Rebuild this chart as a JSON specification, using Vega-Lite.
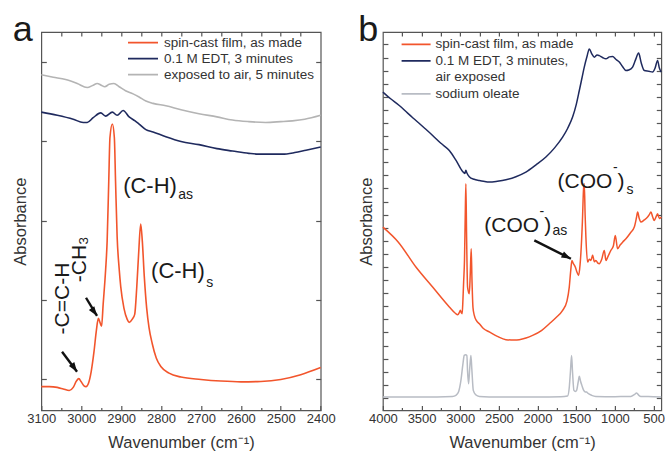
{
  "$schema": "https://vega.github.io/schema/vega-lite/v6.json",
  "background": "white",
  "padding": {"left": 11.3, "top": 11, "right": 0, "bottom": 0},
  "spacing": 61.6,
  "bounds": "flush",
  "config": {
    "font": "Liberation Sans",
    "view": {"stroke": "#555", "strokeWidth": 1.2},
    "axis": {"domain": false, "grid": false, "tickColor": "#555", "tickWidth": 1.2, "labelColor": "#333", "titleColor": "#333", "labelFont": "Liberation Sans", "titleFont": "Liberation Sans", "labelFontSize": 13, "titleFontSize": 16.5, "titleFontWeight": "normal", "labelOverlap": false, "labelFlush": false, "format": "d"},
    "legend": {"labelFont": "Liberation Sans"}
  },
  "resolve": {"scale": {"color": "independent"}},
  "datasets": {
    "a": [
      {"series":"spin-cast film, as made","wn":3100,"abs":-0.09},{"series":"spin-cast film, as made","wn":3080,"abs":-0.09},{"series":"spin-cast film, as made","wn":3060,"abs":-0.10},{"series":"spin-cast film, as made","wn":3045,"abs":-0.12},{"series":"spin-cast film, as made","wn":3030,"abs":-0.14},{"series":"spin-cast film, as made","wn":3020,"abs":-0.10},{"series":"spin-cast film, as made","wn":3012,"abs":-0.02},{"series":"spin-cast film, as made","wn":3006,"abs":0.01},{"series":"spin-cast film, as made","wn":3000,"abs":-0.03},{"series":"spin-cast film, as made","wn":2993,"abs":-0.08},{"series":"spin-cast film, as made","wn":2988,"abs":-0.09},{"series":"spin-cast film, as made","wn":2982,"abs":-0.05},{"series":"spin-cast film, as made","wn":2975,"abs":0.10},{"series":"spin-cast film, as made","wn":2968,"abs":0.35},{"series":"spin-cast film, as made","wn":2962,"abs":0.62},{"series":"spin-cast film, as made","wn":2957,"abs":0.77},{"series":"spin-cast film, as made","wn":2953,"abs":0.72},{"series":"spin-cast film, as made","wn":2949,"abs":0.67},{"series":"spin-cast film, as made","wn":2945,"abs":0.95},{"series":"spin-cast film, as made","wn":2939,"abs":1.37},{"series":"spin-cast film, as made","wn":2935,"abs":1.75},{"series":"spin-cast film, as made","wn":2931,"abs":2.5},{"series":"spin-cast film, as made","wn":2928,"abs":3.05},{"series":"spin-cast film, as made","wn":2922,"abs":3.22},{"series":"spin-cast film, as made","wn":2917,"abs":3.05},{"series":"spin-cast film, as made","wn":2914,"abs":2.5},{"series":"spin-cast film, as made","wn":2910,"abs":1.8},{"series":"spin-cast film, as made","wn":2905,"abs":1.4},{"series":"spin-cast film, as made","wn":2901,"abs":1.17},{"series":"spin-cast film, as made","wn":2893,"abs":0.9},{"series":"spin-cast film, as made","wn":2885,"abs":0.76},{"series":"spin-cast film, as made","wn":2880,"abs":0.72},{"series":"spin-cast film, as made","wn":2872,"abs":0.76},{"series":"spin-cast film, as made","wn":2866,"abs":0.82},{"series":"spin-cast film, as made","wn":2861,"abs":1.15},{"series":"spin-cast film, as made","wn":2856,"abs":1.6},{"series":"spin-cast film, as made","wn":2851,"abs":1.96},{"series":"spin-cast film, as made","wn":2847,"abs":1.75},{"series":"spin-cast film, as made","wn":2842,"abs":1.3},{"series":"spin-cast film, as made","wn":2836,"abs":0.9},{"series":"spin-cast film, as made","wn":2830,"abs":0.65},{"series":"spin-cast film, as made","wn":2822,"abs":0.45},{"series":"spin-cast film, as made","wn":2812,"abs":0.27},{"series":"spin-cast film, as made","wn":2800,"abs":0.16},{"series":"spin-cast film, as made","wn":2780,"abs":0.08},{"series":"spin-cast film, as made","wn":2750,"abs":0.03},{"series":"spin-cast film, as made","wn":2700,"abs":0.0},{"series":"spin-cast film, as made","wn":2650,"abs":-0.02},{"series":"spin-cast film, as made","wn":2600,"abs":-0.03},{"series":"spin-cast film, as made","wn":2550,"abs":-0.025},{"series":"spin-cast film, as made","wn":2500,"abs":0.0},{"series":"spin-cast film, as made","wn":2450,"abs":0.06},{"series":"spin-cast film, as made","wn":2400,"abs":0.15},
      {"series":"0.1 M EDT, 3 minutes","wn":3100,"abs":3.37},{"series":"0.1 M EDT, 3 minutes","wn":3060,"abs":3.33},{"series":"0.1 M EDT, 3 minutes","wn":3020,"abs":3.28},{"series":"0.1 M EDT, 3 minutes","wn":2995,"abs":3.24},{"series":"0.1 M EDT, 3 minutes","wn":2985,"abs":3.24},{"series":"0.1 M EDT, 3 minutes","wn":2970,"abs":3.3},{"series":"0.1 M EDT, 3 minutes","wn":2951,"abs":3.36},{"series":"0.1 M EDT, 3 minutes","wn":2939,"abs":3.32},{"series":"0.1 M EDT, 3 minutes","wn":2922,"abs":3.37},{"series":"0.1 M EDT, 3 minutes","wn":2910,"abs":3.33},{"series":"0.1 M EDT, 3 minutes","wn":2895,"abs":3.39},{"series":"0.1 M EDT, 3 minutes","wn":2880,"abs":3.31},{"series":"0.1 M EDT, 3 minutes","wn":2865,"abs":3.26},{"series":"0.1 M EDT, 3 minutes","wn":2855,"abs":3.22},{"series":"0.1 M EDT, 3 minutes","wn":2838,"abs":3.15},{"series":"0.1 M EDT, 3 minutes","wn":2820,"abs":3.12},{"series":"0.1 M EDT, 3 minutes","wn":2788,"abs":3.06},{"series":"0.1 M EDT, 3 minutes","wn":2750,"abs":3.0},{"series":"0.1 M EDT, 3 minutes","wn":2705,"abs":2.96},{"series":"0.1 M EDT, 3 minutes","wn":2660,"abs":2.91},{"series":"0.1 M EDT, 3 minutes","wn":2621,"abs":2.88},{"series":"0.1 M EDT, 3 minutes","wn":2580,"abs":2.85},{"series":"0.1 M EDT, 3 minutes","wn":2555,"abs":2.84},{"series":"0.1 M EDT, 3 minutes","wn":2520,"abs":2.84},{"series":"0.1 M EDT, 3 minutes","wn":2496,"abs":2.84},{"series":"0.1 M EDT, 3 minutes","wn":2465,"abs":2.86},{"series":"0.1 M EDT, 3 minutes","wn":2437,"abs":2.89},{"series":"0.1 M EDT, 3 minutes","wn":2400,"abs":2.93},
      {"series":"exposed to air, 5 minutes","wn":3100,"abs":3.84},{"series":"exposed to air, 5 minutes","wn":3070,"abs":3.81},{"series":"exposed to air, 5 minutes","wn":3039,"abs":3.78},{"series":"exposed to air, 5 minutes","wn":3010,"abs":3.73},{"series":"exposed to air, 5 minutes","wn":2985,"abs":3.68},{"series":"exposed to air, 5 minutes","wn":2970,"abs":3.71},{"series":"exposed to air, 5 minutes","wn":2960,"abs":3.73},{"series":"exposed to air, 5 minutes","wn":2950,"abs":3.71},{"series":"exposed to air, 5 minutes","wn":2941,"abs":3.69},{"series":"exposed to air, 5 minutes","wn":2930,"abs":3.72},{"series":"exposed to air, 5 minutes","wn":2918,"abs":3.73},{"series":"exposed to air, 5 minutes","wn":2905,"abs":3.69},{"series":"exposed to air, 5 minutes","wn":2889,"abs":3.64},{"series":"exposed to air, 5 minutes","wn":2870,"abs":3.6},{"series":"exposed to air, 5 minutes","wn":2855,"abs":3.56},{"series":"exposed to air, 5 minutes","wn":2838,"abs":3.51},{"series":"exposed to air, 5 minutes","wn":2820,"abs":3.48},{"series":"exposed to air, 5 minutes","wn":2788,"abs":3.45},{"series":"exposed to air, 5 minutes","wn":2750,"abs":3.4},{"series":"exposed to air, 5 minutes","wn":2705,"abs":3.35},{"series":"exposed to air, 5 minutes","wn":2660,"abs":3.31},{"series":"exposed to air, 5 minutes","wn":2621,"abs":3.27},{"series":"exposed to air, 5 minutes","wn":2580,"abs":3.25},{"series":"exposed to air, 5 minutes","wn":2538,"abs":3.24},{"series":"exposed to air, 5 minutes","wn":2500,"abs":3.25},{"series":"exposed to air, 5 minutes","wn":2471,"abs":3.26},{"series":"exposed to air, 5 minutes","wn":2440,"abs":3.28},{"series":"exposed to air, 5 minutes","wn":2400,"abs":3.33}
    ],
    "b": [
      {"series":"sodium oleate","wn":4000,"abs":0.08},{"series":"sodium oleate","wn":3500,"abs":0.08},{"series":"sodium oleate","wn":3100,"abs":0.12},{"series":"sodium oleate","wn":3056,"abs":0.2},{"series":"sodium oleate","wn":3020,"abs":0.5},{"series":"sodium oleate","wn":2991,"abs":1.34},{"series":"sodium oleate","wn":2965,"abs":2.6},{"series":"sodium oleate","wn":2948,"abs":3.25},{"series":"sodium oleate","wn":2930,"abs":3.3},{"series":"sodium oleate","wn":2914,"abs":3.25},{"series":"sodium oleate","wn":2905,"abs":2.0},{"series":"sodium oleate","wn":2892,"abs":1.09},{"series":"sodium oleate","wn":2878,"abs":2.2},{"series":"sodium oleate","wn":2862,"abs":3.25},{"series":"sodium oleate","wn":2850,"abs":2.2},{"series":"sodium oleate","wn":2831,"abs":0.58},{"series":"sodium oleate","wn":2800,"abs":0.25},{"series":"sodium oleate","wn":2753,"abs":0.12},{"series":"sodium oleate","wn":2500,"abs":0.08},{"series":"sodium oleate","wn":2000,"abs":0.08},{"series":"sodium oleate","wn":1700,"abs":0.1},{"series":"sodium oleate","wn":1612,"abs":0.15},{"series":"sodium oleate","wn":1590,"abs":0.8},{"series":"sodium oleate","wn":1575,"abs":2.0},{"series":"sodium oleate","wn":1560,"abs":3.25},{"series":"sodium oleate","wn":1548,"abs":2.0},{"series":"sodium oleate","wn":1530,"abs":0.58},{"series":"sodium oleate","wn":1510,"abs":0.5},{"series":"sodium oleate","wn":1495,"abs":0.58},{"series":"sodium oleate","wn":1475,"abs":1.2},{"series":"sodium oleate","wn":1460,"abs":1.65},{"series":"sodium oleate","wn":1445,"abs":1.3},{"series":"sodium oleate","wn":1427,"abs":0.96},{"series":"sodium oleate","wn":1405,"abs":0.6},{"series":"sodium oleate","wn":1383,"abs":0.46},{"series":"sodium oleate","wn":1365,"abs":0.45},{"series":"sodium oleate","wn":1353,"abs":0.38},{"series":"sodium oleate","wn":1300,"abs":0.2},{"series":"sodium oleate","wn":1246,"abs":0.12},{"series":"sodium oleate","wn":1000,"abs":0.1},{"series":"sodium oleate","wn":850,"abs":0.12},{"series":"sodium oleate","wn":793,"abs":0.12},{"series":"sodium oleate","wn":750,"abs":0.25},{"series":"sodium oleate","wn":719,"abs":0.38},{"series":"sodium oleate","wn":690,"abs":0.2},{"series":"sodium oleate","wn":664,"abs":0.12},{"series":"sodium oleate","wn":500,"abs":0.1},{"series":"sodium oleate","wn":400,"abs":0.08},
      {"series":"0.1 M EDT, 3 minutes, air exposed","wn":4000,"abs":23.36},{"series":"0.1 M EDT, 3 minutes, air exposed","wn":3900,"abs":22.85},{"series":"0.1 M EDT, 3 minutes, air exposed","wn":3788,"abs":22.34},{"series":"0.1 M EDT, 3 minutes, air exposed","wn":3680,"abs":21.75},{"series":"0.1 M EDT, 3 minutes, air exposed","wn":3573,"abs":21.19},{"series":"0.1 M EDT, 3 minutes, air exposed","wn":3460,"abs":20.6},{"series":"0.1 M EDT, 3 minutes, air exposed","wn":3357,"abs":20.05},{"series":"0.1 M EDT, 3 minutes, air exposed","wn":3250,"abs":19.45},{"series":"0.1 M EDT, 3 minutes, air exposed","wn":3141,"abs":18.9},{"series":"0.1 M EDT, 3 minutes, air exposed","wn":3050,"abs":18.1},{"series":"0.1 M EDT, 3 minutes, air exposed","wn":2969,"abs":17.3},{"series":"0.1 M EDT, 3 minutes, air exposed","wn":2940,"abs":17.15},{"series":"0.1 M EDT, 3 minutes, air exposed","wn":2927,"abs":17.4},{"series":"0.1 M EDT, 3 minutes, air exposed","wn":2915,"abs":17.2},{"series":"0.1 M EDT, 3 minutes, air exposed","wn":2883,"abs":16.9},{"series":"0.1 M EDT, 3 minutes, air exposed","wn":2820,"abs":16.7},{"series":"0.1 M EDT, 3 minutes, air exposed","wn":2753,"abs":16.61},{"series":"0.1 M EDT, 3 minutes, air exposed","wn":2700,"abs":16.55},{"series":"0.1 M EDT, 3 minutes, air exposed","wn":2624,"abs":16.49},{"series":"0.1 M EDT, 3 minutes, air exposed","wn":2520,"abs":16.55},{"series":"0.1 M EDT, 3 minutes, air exposed","wn":2409,"abs":16.66},{"series":"0.1 M EDT, 3 minutes, air exposed","wn":2280,"abs":16.9},{"series":"0.1 M EDT, 3 minutes, air exposed","wn":2151,"abs":17.25},{"series":"0.1 M EDT, 3 minutes, air exposed","wn":2020,"abs":17.8},{"series":"0.1 M EDT, 3 minutes, air exposed","wn":1892,"abs":18.4},{"series":"0.1 M EDT, 3 minutes, air exposed","wn":1780,"abs":19.1},{"series":"0.1 M EDT, 3 minutes, air exposed","wn":1676,"abs":19.92},{"series":"0.1 M EDT, 3 minutes, air exposed","wn":1610,"abs":20.6},{"series":"0.1 M EDT, 3 minutes, air exposed","wn":1547,"abs":21.45},{"series":"0.1 M EDT, 3 minutes, air exposed","wn":1500,"abs":22.4},{"series":"0.1 M EDT, 3 minutes, air exposed","wn":1460,"abs":23.48},{"series":"0.1 M EDT, 3 minutes, air exposed","wn":1420,"abs":24.6},{"series":"0.1 M EDT, 3 minutes, air exposed","wn":1396,"abs":25.27},{"series":"0.1 M EDT, 3 minutes, air exposed","wn":1360,"abs":26.1},{"series":"0.1 M EDT, 3 minutes, air exposed","wn":1331,"abs":26.66},{"series":"0.1 M EDT, 3 minutes, air exposed","wn":1300,"abs":26.3},{"series":"0.1 M EDT, 3 minutes, air exposed","wn":1266,"abs":26.03},{"series":"0.1 M EDT, 3 minutes, air exposed","wn":1230,"abs":26.2},{"series":"0.1 M EDT, 3 minutes, air exposed","wn":1202,"abs":26.15},{"series":"0.1 M EDT, 3 minutes, air exposed","wn":1160,"abs":26.0},{"series":"0.1 M EDT, 3 minutes, air exposed","wn":1116,"abs":25.9},{"series":"0.1 M EDT, 3 minutes, air exposed","wn":1070,"abs":26.05},{"series":"0.1 M EDT, 3 minutes, air exposed","wn":1030,"abs":26.08},{"series":"0.1 M EDT, 3 minutes, air exposed","wn":985,"abs":25.85},{"series":"0.1 M EDT, 3 minutes, air exposed","wn":943,"abs":25.65},{"series":"0.1 M EDT, 3 minutes, air exposed","wn":900,"abs":25.3},{"series":"0.1 M EDT, 3 minutes, air exposed","wn":857,"abs":25.01},{"series":"0.1 M EDT, 3 minutes, air exposed","wn":820,"abs":25.05},{"series":"0.1 M EDT, 3 minutes, air exposed","wn":771,"abs":25.27},{"series":"0.1 M EDT, 3 minutes, air exposed","wn":735,"abs":25.8},{"series":"0.1 M EDT, 3 minutes, air exposed","wn":693,"abs":26.34},{"series":"0.1 M EDT, 3 minutes, air exposed","wn":660,"abs":25.6},{"series":"0.1 M EDT, 3 minutes, air exposed","wn":620,"abs":25.01},{"series":"0.1 M EDT, 3 minutes, air exposed","wn":560,"abs":24.95},{"series":"0.1 M EDT, 3 minutes, air exposed","wn":512,"abs":24.89},{"series":"0.1 M EDT, 3 minutes, air exposed","wn":480,"abs":25.2},{"series":"0.1 M EDT, 3 minutes, air exposed","wn":448,"abs":25.78},{"series":"0.1 M EDT, 3 minutes, air exposed","wn":425,"abs":25.2},{"series":"0.1 M EDT, 3 minutes, air exposed","wn":400,"abs":24.89},
      {"series":"spin-cast film, as made","wn":4000,"abs":13.05},{"series":"spin-cast film, as made","wn":3800,"abs":11.9},{"series":"spin-cast film, as made","wn":3573,"abs":10.0},{"series":"spin-cast film, as made","wn":3357,"abs":8.47},{"series":"spin-cast film, as made","wn":3141,"abs":6.95},{"series":"spin-cast film, as made","wn":3060,"abs":6.45},{"series":"spin-cast film, as made","wn":3034,"abs":6.36},{"series":"spin-cast film, as made","wn":3010,"abs":6.55},{"series":"spin-cast film, as made","wn":2999,"abs":6.69},{"series":"spin-cast film, as made","wn":2985,"abs":6.5},{"series":"spin-cast film, as made","wn":2975,"abs":6.44},{"series":"spin-cast film, as made","wn":2965,"abs":7.5},{"series":"spin-cast film, as made","wn":2956,"abs":8.85},{"series":"spin-cast film, as made","wn":2945,"abs":10.5},{"series":"spin-cast film, as made","wn":2935,"abs":14.0},{"series":"spin-cast film, as made","wn":2927,"abs":16.36},{"series":"spin-cast film, as made","wn":2918,"abs":12.5},{"series":"spin-cast film, as made","wn":2905,"abs":8.47},{"series":"spin-cast film, as made","wn":2883,"abs":7.96},{"series":"spin-cast film, as made","wn":2870,"abs":9.5},{"series":"spin-cast film, as made","wn":2858,"abs":11.4},{"series":"spin-cast film, as made","wn":2848,"abs":9.0},{"series":"spin-cast film, as made","wn":2835,"abs":6.9},{"series":"spin-cast film, as made","wn":2818,"abs":6.3},{"series":"spin-cast film, as made","wn":2790,"abs":5.9},{"series":"spin-cast film, as made","wn":2753,"abs":5.67},{"series":"spin-cast film, as made","wn":2700,"abs":5.3},{"series":"spin-cast film, as made","wn":2624,"abs":5.04},{"series":"spin-cast film, as made","wn":2520,"abs":4.7},{"series":"spin-cast film, as made","wn":2409,"abs":4.45},{"series":"spin-cast film, as made","wn":2300,"abs":4.42},{"series":"spin-cast film, as made","wn":2236,"abs":4.45},{"series":"spin-cast film, as made","wn":2150,"abs":4.58},{"series":"spin-cast film, as made","wn":2064,"abs":4.78},{"series":"spin-cast film, as made","wn":1950,"abs":5.15},{"series":"spin-cast film, as made","wn":1848,"abs":5.67},{"series":"spin-cast film, as made","wn":1760,"abs":6.15},{"series":"spin-cast film, as made","wn":1676,"abs":6.69},{"series":"spin-cast film, as made","wn":1620,"abs":7.4},{"series":"spin-cast film, as made","wn":1590,"abs":8.47},{"series":"spin-cast film, as made","wn":1570,"abs":9.8},{"series":"spin-cast film, as made","wn":1556,"abs":10.5},{"series":"spin-cast film, as made","wn":1540,"abs":10.3},{"series":"spin-cast film, as made","wn":1512,"abs":10.0},{"series":"spin-cast film, as made","wn":1490,"abs":9.6},{"series":"spin-cast film, as made","wn":1469,"abs":9.36},{"series":"spin-cast film, as made","wn":1450,"abs":10.2},{"series":"spin-cast film, as made","wn":1440,"abs":11.02},{"series":"spin-cast film, as made","wn":1420,"abs":13.5},{"series":"spin-cast film, as made","wn":1405,"abs":16.0},{"series":"spin-cast film, as made","wn":1396,"abs":16.36},{"series":"spin-cast film, as made","wn":1385,"abs":14.0},{"series":"spin-cast film, as made","wn":1375,"abs":12.29},{"series":"spin-cast film, as made","wn":1353,"abs":10.38},{"series":"spin-cast film, as made","wn":1330,"abs":10.6},{"series":"spin-cast film, as made","wn":1310,"abs":10.5},{"series":"spin-cast film, as made","wn":1288,"abs":10.89},{"series":"spin-cast film, as made","wn":1265,"abs":10.4},{"series":"spin-cast film, as made","wn":1246,"abs":10.5},{"series":"spin-cast film, as made","wn":1220,"abs":10.3},{"series":"spin-cast film, as made","wn":1202,"abs":10.25},{"series":"spin-cast film, as made","wn":1170,"abs":10.6},{"series":"spin-cast film, as made","wn":1137,"abs":11.27},{"series":"spin-cast film, as made","wn":1116,"abs":10.5},{"series":"spin-cast film, as made","wn":1090,"abs":10.8},{"series":"spin-cast film, as made","wn":1052,"abs":11.27},{"series":"spin-cast film, as made","wn":1020,"abs":11.6},{"series":"spin-cast film, as made","wn":995,"abs":12.41},{"series":"spin-cast film, as made","wn":965,"abs":11.4},{"series":"spin-cast film, as made","wn":930,"abs":11.7},{"series":"spin-cast film, as made","wn":900,"abs":11.9},{"series":"spin-cast film, as made","wn":857,"abs":12.16},{"series":"spin-cast film, as made","wn":800,"abs":12.6},{"series":"spin-cast film, as made","wn":749,"abs":13.05},{"series":"spin-cast film, as made","wn":720,"abs":13.8},{"series":"spin-cast film, as made","wn":706,"abs":14.2},{"series":"spin-cast film, as made","wn":685,"abs":13.7},{"series":"spin-cast film, as made","wn":664,"abs":13.44},{"series":"spin-cast film, as made","wn":620,"abs":13.6},{"series":"spin-cast film, as made","wn":577,"abs":13.82},{"series":"spin-cast film, as made","wn":555,"abs":14.0},{"series":"spin-cast film, as made","wn":534,"abs":14.2},{"series":"spin-cast film, as made","wn":510,"abs":13.8},{"series":"spin-cast film, as made","wn":491,"abs":13.56},{"series":"spin-cast film, as made","wn":470,"abs":13.8},{"series":"spin-cast film, as made","wn":448,"abs":14.07},{"series":"spin-cast film, as made","wn":425,"abs":13.7},{"series":"spin-cast film, as made","wn":400,"abs":13.82}
    ],
    "annA": [
      {"role":"main","label":"(C-H)","wn":2895,"abs":2.35},
      {"role":"sub","label":"as","wn":2757,"abs":2.27},
      {"role":"main","label":"(C-H)","wn":2825,"abs":1.28},
      {"role":"sub","label":"s","wn":2687,"abs":1.17},
      {"role":"rot","label":"-C=C-H","wn":3045,"abs":1.02},
      {"role":"rot","label":"-CH₃","wn":3002,"abs":1.515}
    ],
    "annB": [
      {"role":"main","label":"(COO","wn":1741,"abs":16.05},
      {"role":"sup","label":"-","wn":1023,"abs":17.27},
      {"role":"main","label":")","wn":965,"abs":16.05},
      {"role":"sub","label":"s","wn":849,"abs":15.6},
      {"role":"main","label":"(COO","wn":2689,"abs":12.67},
      {"role":"sup","label":"-","wn":1974,"abs":13.9},
      {"role":"main","label":")","wn":1915,"abs":12.67},
      {"role":"sub","label":"as","wn":1806,"abs":12.41}
    ],
    "arrA": [
      {"wn":3048,"abs":0.35,"wn2":3010.5,"abs2":0.097},
      {"wn":2988,"abs":1.03,"wn2":2960.4,"abs2":0.80}
    ],
    "arrB": [
      {"wn":2042,"abs":12.03,"wn2":1569,"abs2":10.63}
    ]
  },
  "hconcat": [
    {
      "width": 279.4,
      "height": 378.4,
      "title": {"text": "a", "anchor": "start", "frame": "bounds", "fontSize": 36, "fontWeight": "normal", "color": "#1a1a1a", "baseline": "alphabetic", "offset": -45.3},
      "resolve": {"axis": {"x": "independent", "y": "independent"}},
      "layer": [
        {
          "data": {"name": "a"},
          "mark": {"type": "line", "strokeWidth": 1.6, "interpolate": "monotone"},
          "encoding": {
            "x": {"field": "wn", "type": "quantitative", "scale": {"domain": [2400, 3100], "reverse": true, "nice": false, "zero": false},
                  "axis": {"orient": "bottom", "values": [3100,3000,2900,2800,2700,2600,2500,2400], "tickSize": -5, "labelPadding": 7, "title": "Wavenumber (cm⁻¹)", "titlePadding": 9}},
            "y": {"field": "abs", "type": "quantitative", "scale": {"domain": [-0.39, 4.38], "nice": false, "zero": false},
                  "axis": {"orient": "left", "values": [0,1,2,3,4], "tickSize": -5, "labels": false, "title": "Absorbance", "titlePadding": 12}},
            "color": {"field": "series", "type": "nominal", "sort": null,
                      "scale": {"domain": ["spin-cast film, as made", "0.1 M EDT, 3 minutes", "exposed to air, 5 minutes"], "range": ["#f2552c", "#1f2a5e", "#b4b4b4"]},
                      "legend": {"orient": "none", "legendX": 85.7, "legendY": 2.6, "title": null, "symbolType": "stroke", "symbolSize": 900, "symbolStrokeWidth": 1.8, "labelFontSize": 13.5, "labelColor": "#333", "clipHeight": 16, "labelOffset": 5, "rowPadding": 0, "padding": 0}}
          }
        },
        {
          "data": {"name": "annA"},
          "transform": [{"filter": "datum.role == 'main'"}],
          "mark": {"type": "text", "fontSize": 22, "align": "left", "baseline": "alphabetic", "color": "#1a1a1a"},
          "encoding": {
            "x": {"field": "wn", "type": "quantitative", "scale": {"domain": [2400, 3100], "reverse": true, "nice": false, "zero": false},
                  "axis": {"orient": "bottom", "values": [3050,2950,2850,2750,2650,2550,2450], "tickSize": -3, "labels": false, "title": null}},
            "y": {"field": "abs", "type": "quantitative", "scale": {"domain": [-0.39, 4.38], "nice": false, "zero": false},
                  "axis": {"orient": "right", "values": [0,1,2,3,4], "tickSize": -5, "labels": false, "title": null}},
            "text": {"field": "label"}
          }
        },
        {
          "data": {"name": "annA"},
          "transform": [{"filter": "datum.role == 'sub'"}],
          "mark": {"type": "text", "fontSize": 14, "align": "left", "baseline": "alphabetic", "color": "#1a1a1a"},
          "encoding": {
            "x": {"field": "wn", "type": "quantitative", "scale": {"domain": [2400, 3100], "reverse": true, "nice": false, "zero": false},
                  "axis": {"orient": "top", "values": [3050,3000,2950,2900,2850,2800,2750,2700,2650,2600,2550,2500,2450], "tickSize": -4, "labels": false, "title": null}},
            "y": {"field": "abs", "type": "quantitative", "scale": {"domain": [-0.39, 4.38], "nice": false, "zero": false}, "axis": null},
            "text": {"field": "label"}
          }
        },
        {
          "data": {"name": "annA"},
          "transform": [{"filter": "datum.role == 'rot'"}],
          "mark": {"type": "text", "fontSize": 21, "angle": 270, "align": "center", "baseline": "middle", "color": "#1a1a1a"},
          "encoding": {
            "x": {"field": "wn", "type": "quantitative", "scale": {"domain": [2400, 3100], "reverse": true, "nice": false, "zero": false}, "axis": null},
            "y": {"field": "abs", "type": "quantitative", "scale": {"domain": [-0.39, 4.38], "nice": false, "zero": false}, "axis": null},
            "text": {"field": "label"}
          }
        },
        {
          "data": {"name": "arrA"},
          "mark": {"type": "rule", "strokeWidth": 2.4, "color": "#111"},
          "encoding": {
            "x": {"field": "wn", "type": "quantitative", "scale": {"domain": [2400, 3100], "reverse": true, "nice": false, "zero": false}, "axis": null},
            "y": {"field": "abs", "type": "quantitative", "scale": {"domain": [-0.39, 4.38], "nice": false, "zero": false}, "axis": null},
            "x2": {"field": "wn2"},
            "y2": {"field": "abs2"}
          }
        },
        {
          "data": {"name": "arrA"},
          "mark": {"type": "point", "shape": "M0,0L0.7,2L-0.7,2Z", "filled": true, "opacity": 1, "color": "#111", "size": 90, "angle": 145},
          "encoding": {
            "x": {"field": "wn2", "type": "quantitative", "scale": {"domain": [2400, 3100], "reverse": true, "nice": false, "zero": false}, "axis": null},
            "y": {"field": "abs2", "type": "quantitative", "scale": {"domain": [-0.39, 4.38], "nice": false, "zero": false}, "axis": null}
          }
        }
      ]
    },
    {
      "width": 278.4,
      "height": 378.4,
      "title": {"text": "b", "anchor": "start", "frame": "bounds", "fontSize": 36, "fontWeight": "normal", "color": "#1a1a1a", "baseline": "alphabetic", "offset": -45.3},
      "resolve": {"axis": {"x": "independent", "y": "independent"}},
      "layer": [
        {
          "data": {"name": "b"},
          "mark": {"type": "line", "strokeWidth": 1.5, "interpolate": "monotone"},
          "encoding": {
            "x": {"field": "wn", "type": "quantitative", "scale": {"domain": [400, 4000], "reverse": true, "nice": false, "zero": false},
                  "axis": {"orient": "bottom", "values": [4000,3500,3000,2500,2000,1500,1000,500], "tickSize": -5, "labelPadding": 7, "title": "Wavenumber (cm⁻¹)", "titlePadding": 9}},
            "y": {"field": "abs", "type": "quantitative", "scale": {"domain": [-0.95, 27.95], "nice": false, "zero": false},
                  "axis": {"orient": "left", "values": [0,1,2,3,4,5,6,7,8,9,10,11,12,13,14,15,16,17,18,19,20,21,22,23,24,25,26,27], "tickSize": -5, "labels": false, "title": "Absorbance", "titlePadding": 8}},
            "color": {"field": "series", "type": "nominal", "sort": null,
                      "scale": {"domain": ["spin-cast film, as made", "0.1 M EDT, 3 minutes, air exposed", "air exposed", "sodium oleate"], "range": ["#f2552c", "#1f2a5e", "rgba(0,0,0,0)", "#b8bcc4"]},
                      "legend": {"orient": "none", "legendX": 17.7, "legendY": 4.4, "title": null, "symbolType": "stroke", "symbolSize": 841, "symbolStrokeWidth": 1.8, "labelFontSize": 13.5, "labelColor": "#333", "clipHeight": 16, "labelOffset": 4, "rowPadding": 0.5, "padding": 0,
                                 "labelExpr": "datum.label == '0.1 M EDT, 3 minutes, air exposed' ? '0.1 M EDT, 3 minutes,' : datum.label"}}
          }
        },
        {
          "data": {"name": "annB"},
          "transform": [{"filter": "datum.role == 'main'"}],
          "mark": {"type": "text", "fontSize": 21, "align": "left", "baseline": "alphabetic", "color": "#1a1a1a"},
          "encoding": {
            "x": {"field": "wn", "type": "quantitative", "scale": {"domain": [400, 4000], "reverse": true, "nice": false, "zero": false},
                  "axis": {"orient": "bottom", "values": [3750,3250,2750,2250,1750,1250,750], "tickSize": -3, "labels": false, "title": null}},
            "y": {"field": "abs", "type": "quantitative", "scale": {"domain": [-0.95, 27.95], "nice": false, "zero": false},
                  "axis": {"orient": "right", "values": [0,1,2,3,4,5,6,7,8,9,10,11,12,13,14,15,16,17,18,19,20,21,22,23,24,25,26,27], "tickSize": -5, "labels": false, "title": null}},
            "text": {"field": "label"}
          }
        },
        {
          "data": {"name": "annB"},
          "transform": [{"filter": "datum.role != 'main'"}],
          "mark": {"type": "text", "fontSize": 14, "align": "left", "baseline": "alphabetic", "color": "#1a1a1a"},
          "encoding": {
            "x": {"field": "wn", "type": "quantitative", "scale": {"domain": [400, 4000], "reverse": true, "nice": false, "zero": false},
                  "axis": {"orient": "top", "values": [3750,3500,3250,3000,2750,2500,2250,2000,1750,1500,1250,1000,750,500], "tickSize": -4, "labels": false, "title": null}},
            "y": {"field": "abs", "type": "quantitative", "scale": {"domain": [-0.95, 27.95], "nice": false, "zero": false}, "axis": null},
            "text": {"field": "label"}
          }
        },
        {
          "data": {"name": "arrB"},
          "mark": {"type": "rule", "strokeWidth": 2.4, "color": "#111"},
          "encoding": {
            "x": {"field": "wn", "type": "quantitative", "scale": {"domain": [400, 4000], "reverse": true, "nice": false, "zero": false}, "axis": null},
            "y": {"field": "abs", "type": "quantitative", "scale": {"domain": [-0.95, 27.95], "nice": false, "zero": false}, "axis": null},
            "x2": {"field": "wn2"},
            "y2": {"field": "abs2"}
          }
        },
        {
          "data": {"name": "arrB"},
          "mark": {"type": "point", "shape": "M0,0L0.7,2L-0.7,2Z", "filled": true, "opacity": 1, "color": "#111", "size": 90, "angle": 117},
          "encoding": {
            "x": {"field": "wn2", "type": "quantitative", "scale": {"domain": [400, 4000], "reverse": true, "nice": false, "zero": false}, "axis": null},
            "y": {"field": "abs2", "type": "quantitative", "scale": {"domain": [-0.95, 27.95], "nice": false, "zero": false}, "axis": null}
          }
        }
      ]
    }
  ]
}
